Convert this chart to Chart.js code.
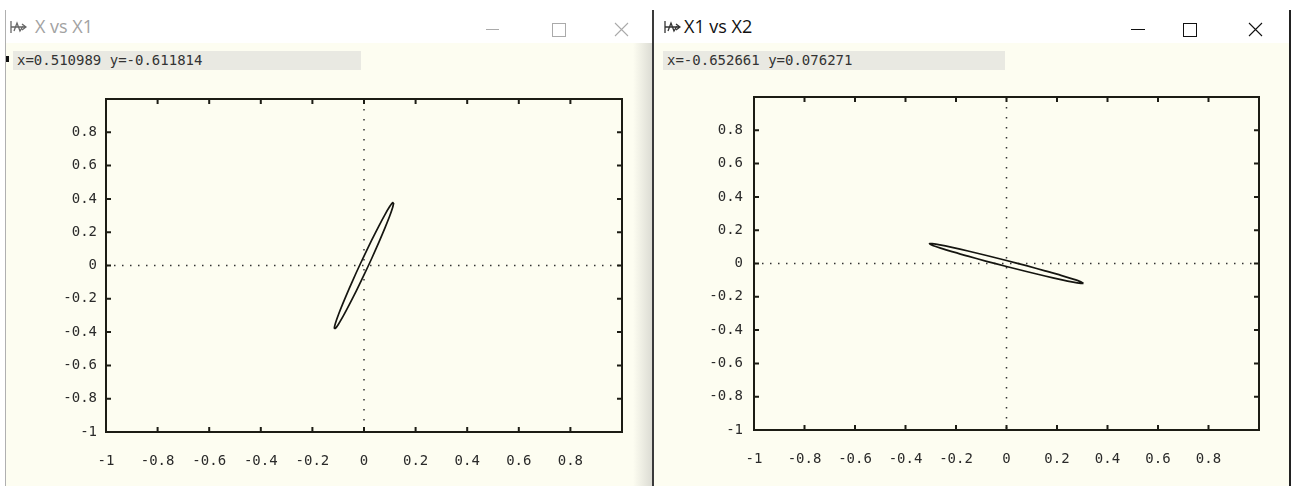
<!DOCTYPE html>
<html>
<head>
<meta charset="utf-8">
<script src="https://cdn.jsdelivr.net/npm/chart.js@4/dist/chart.umd.min.js"></script>
<style>
  html, body { margin: 0; padding: 0; background: #fff; }
  #page { position: relative; width: 1296px; height: 486px; overflow: hidden; background: #fff; }
  .win { position: absolute; top: 10px; height: 476px; background: #fdfdf1; }
  .titlebar { position: absolute; left: 0; top: 0; right: 0; height: 33px; background: #fff; }
  .title { position: absolute; top: 4px; font: 18px "Open Sans", sans-serif; white-space: nowrap; }
  .icon { position: absolute; top: 10px; }
  .readout { position: absolute; top: 41px; height: 19px; background: #e9e9e2;
             font: 14px "DejaVu Sans Mono", monospace; color: #333; line-height: 19px; padding-left: 4px; }
  canvas { position: absolute; }
</style>
</head>
<body>
<div id="page">
  <!-- left window (inactive) -->
  <div class="win" id="w1" style="left:5px; width:648px; border-left:1px solid #b0b0b0;">
    <div class="titlebar"></div>
    <svg class="icon" style="left:4px" width="17" height="14" viewBox="0 0 17 14">
      <path d="M1 1V13M1 7H16M12 4L16 7L12 10M4 11L7 3L10 11L13 6" stroke="#666" stroke-width="1.3" fill="none"/>
    </svg>
    <div class="title" style="left:29px; color:#a2a2a2;">X vs X1</div>
    <div style="position:absolute; left:480px; top:19px; width:13px; height:1px; background:#aaa;"></div>
    <div style="position:absolute; left:546px; top:13px; width:12px; height:12px; border:1px solid #aaa;"></div>
    <svg style="position:absolute; left:608px; top:12px" width="15" height="15">
      <path d="M1 1L14 14M14 1L1 14" stroke="#aaa" stroke-width="1.1"/>
    </svg>
    <div style="position:absolute; left:0px; top:46px; width:3px; height:6px; background:#111;"></div>
    <div class="readout" style="left:7px; width:344px;">x=0.510989 y=-0.611814</div>
    <div style="position:absolute; left:627px; top:33px; width:19px; height:443px;
                background:linear-gradient(to right, #fdfdf1, #dcdcd4);"></div>
    <div style="position:absolute; left:646px; top:0; width:2px; height:476px; background:#3a3a3a;"></div>
  </div>
  <!-- right window (active) -->
  <div class="win" id="w2" style="left:654px; width:635px; border-right:2px solid #222;">
    <div class="titlebar"></div>
    <svg class="icon" style="left:10px" width="17" height="14" viewBox="0 0 17 14">
      <path d="M1 1V13M1 7H16M12 4L16 7L12 10M4 11L7 3L10 11L13 6" stroke="#333" stroke-width="1.3" fill="none"/>
    </svg>
    <div class="title" style="left:30px; color:#111;">X1 vs X2</div>
    <div style="position:absolute; left:477px; top:19px; width:14px; height:1px; background:#111;"></div>
    <div style="position:absolute; left:529px; top:13px; width:12px; height:12px; border:1px solid #111;"></div>
    <svg style="position:absolute; left:594px; top:12px" width="15" height="15">
      <path d="M1 1L14 14M14 1L1 14" stroke="#111" stroke-width="1.1"/>
    </svg>
    <div class="readout" style="left:9px; width:338px;">x=-0.652661 y=0.076271</div>
  </div>
  <canvas id="c1" width="626" height="406" style="left:6px; top:80px;"></canvas>
  <canvas id="c2" width="634" height="406" style="left:654px; top:80px;"></canvas>
</div>
<script>
// tick positions and labels shared by both plots
const tickValues = [-1, -0.8, -0.6, -0.4, -0.2, 0, 0.2, 0.4, 0.6, 0.8, 1];
const tickLabels = ['-1', '-0.8', '-0.6', '-0.4', '-0.2', '0', '0.2', '0.4', '0.6', '0.8', ''];

// "X vs X1" loop (closed)
const loop1X = [0.115, 0.111, 0.0996, 0.0813, 0.0575, 0.0298, 0, -0.0298, -0.0575, -0.0813, -0.0996, -0.111,
                -0.115, -0.111, -0.0996, -0.0813, -0.0575, -0.0298, 0, 0.0298, 0.0575, 0.0813, 0.0996, 0.111, 0.115];
const loop1Y = [0.376, 0.378, 0.354, 0.306, 0.237, 0.152, 0.057, -0.042, -0.139, -0.226, -0.297, -0.348,
                -0.376, -0.378, -0.354, -0.306, -0.237, -0.152, -0.057, 0.042, 0.139, 0.226, 0.297, 0.348, 0.376];

// "X1 vs X2" loop
const loop2X = [0.305, 0.2946, 0.2641, 0.2157, 0.1525, 0.0789, 0, -0.0789, -0.1525, -0.2157, -0.2641, -0.2946,
                -0.305, -0.2946, -0.2641, -0.2157, -0.1525, -0.0789, 0, 0.0789, 0.1525, 0.2157, 0.2641, 0.2946, 0.305];
const loop2Y = [-0.119, -0.119, -0.112, -0.097, -0.075, -0.048, -0.018, 0.013, 0.044, 0.071, 0.094, 0.110,
                0.119, 0.119, 0.112, 0.097, 0.075, 0.048, 0.018, -0.013, -0.044, -0.071, -0.094, -0.110, -0.119];

const tickFont = { family: 'DejaVu Sans Mono', size: 14 };

// gnuplot style: box frame, inward ticks, dotted zero axes
const gnuplotFrame = {
  id: 'gnuplotFrame',
  beforeDatasetsDraw(chart) {
    const { ctx, chartArea: a, scales: { x, y } } = chart;
    const x0 = x.getPixelForValue(0), y0 = y.getPixelForValue(0);
    ctx.save();
    ctx.strokeStyle = '#333';
    ctx.lineWidth = 1.5;
    ctx.setLineDash([1.5, 8.5]);
    ctx.beginPath();
    ctx.moveTo(x0, a.top); ctx.lineTo(x0, a.bottom);
    ctx.stroke();
    ctx.setLineDash([1.5, 6.5]);
    ctx.beginPath();
    ctx.moveTo(a.left, y0); ctx.lineTo(a.right, y0);
    ctx.stroke();
    ctx.restore();
  },
  afterDatasetsDraw(chart) {
    const { ctx, chartArea: a, scales: { x, y } } = chart;
    ctx.save();
    ctx.strokeStyle = '#1c1c14';
    ctx.lineWidth = 2;
    ctx.strokeRect(a.left, a.top, a.right - a.left, a.bottom - a.top);
    ctx.beginPath();
    tickValues.slice(1, -1).forEach(v => {
      const px = x.getPixelForValue(v), py = y.getPixelForValue(v);
      ctx.moveTo(px, a.bottom); ctx.lineTo(px, a.bottom - 5);
      ctx.moveTo(px, a.top); ctx.lineTo(px, a.top + 5);
      ctx.moveTo(a.left, py); ctx.lineTo(a.left + 5, py);
      ctx.moveTo(a.right, py); ctx.lineTo(a.right - 5, py);
    });
    ctx.stroke();
    ctx.restore();
  }
};

function axis(fitSize, isX, pad) {
  return {
    type: 'linear',
    min: -1,
    max: 1,
    afterBuildTicks: s => { s.ticks = tickValues.map(v => ({ value: v })); },
    afterFit: s => {
      if (isX) s.height = fitSize; else s.width = fitSize;
      s.paddingLeft = s.paddingRight = s.paddingTop = s.paddingBottom = 0;
    },
    grid: { display: false, drawTicks: false },
    border: { display: false },
    ticks: {
      autoSkip: false,
      maxRotation: 0,
      padding: pad,
      color: '#2a2a2a',
      font: tickFont,
      callback: (val, i) => tickLabels[i]
    }
  };
}

function makePlot(id, xs, ys, box) {
  new Chart(document.getElementById(id), {
    type: 'scatter',
    data: {
      datasets: [{
        data: xs.map((v, i) => ({ x: v, y: ys[i] })),
        showLine: true,
        borderColor: '#151510',
        borderWidth: 1.7,
        pointRadius: 0,
        tension: 0.25
      }]
    },
    options: {
      responsive: false,
      animation: false,
      devicePixelRatio: 1,
      layout: { padding: { left: 0, top: box.top, right: box.right, bottom: 0 } },
      plugins: { legend: { display: false }, tooltip: { enabled: false } },
      scales: {
        x: axis(box.bottom, true, 21),
        y: axis(box.left, false, box.ypad)
      }
    },
    plugins: [gnuplotFrame]
  });
}

makePlot('c1', loop1X, loop1Y, { left: 100, top: 19, right: 10, bottom: 54, ypad: 9 });
makePlot('c2', loop2X, loop2Y, { left: 100, top: 17, right: 29, bottom: 56, ypad: 11 });
</script>
</body>
</html>
